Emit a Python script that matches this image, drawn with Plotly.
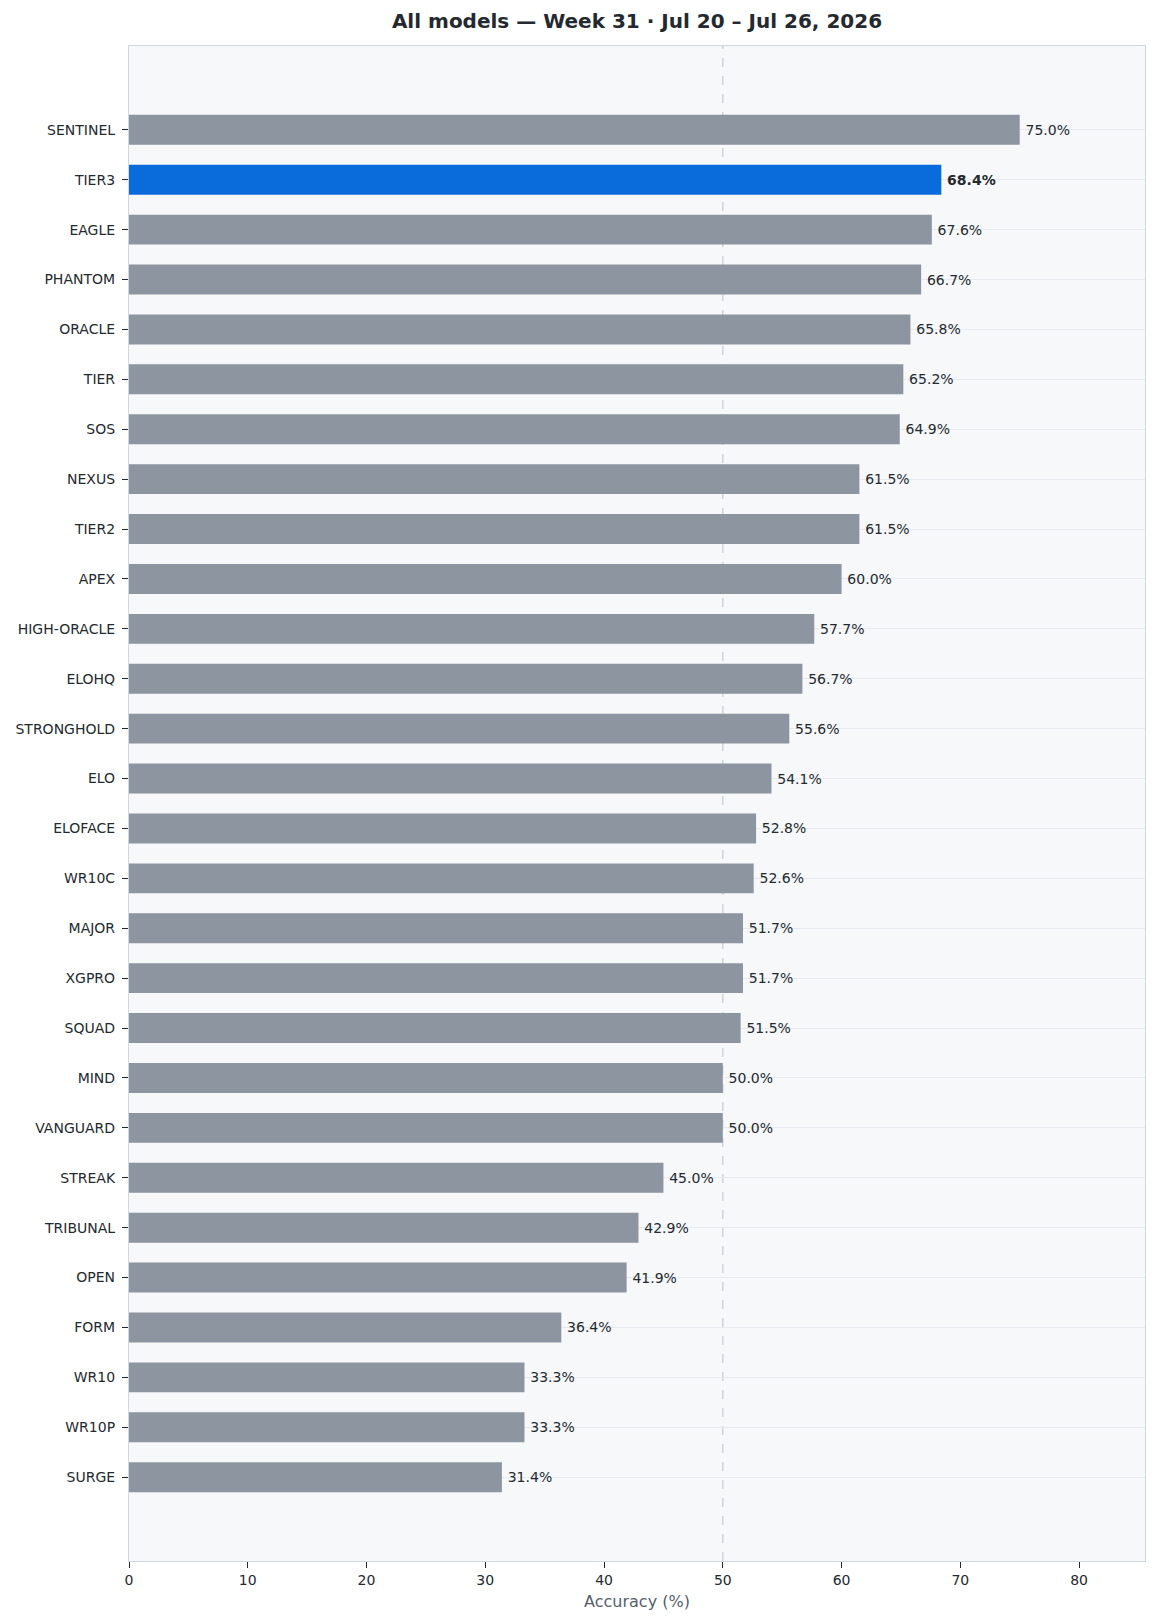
import plotly.graph_objects as go

models = ['SENTINEL', 'TIER3', 'EAGLE', 'PHANTOM', 'ORACLE', 'TIER', 'SOS', 'NEXUS',
          'TIER2', 'APEX', 'HIGH-ORACLE', 'ELOHQ', 'STRONGHOLD', 'ELO', 'ELOFACE',
          'WR10C', 'MAJOR', 'XGPRO', 'SQUAD', 'MIND', 'VANGUARD', 'STREAK', 'TRIBUNAL',
          'OPEN', 'FORM', 'WR10', 'WR10P', 'SURGE']
accuracy = [75.0, 68.4, 67.6, 66.7, 65.8, 65.2, 64.9, 61.5, 61.5, 60.0, 57.7, 56.7,
            55.6, 54.1, 52.8, 52.6, 51.7, 51.7, 51.5, 50.0, 50.0, 45.0, 42.9, 41.9,
            36.4, 33.3, 33.3, 31.4]
highlight = 'TIER3'

colors = ['#0a6bdb' if m == highlight else '#8d95a0' for m in models]
labels = [f'\u2009<b>{v:.1f}%</b>' if m == highlight else f'\u2009{v:.1f}%'
          for m, v in zip(models, accuracy)]

fig = go.Figure(go.Bar(
    x=accuracy,
    y=models,
    orientation='h',
    width=0.6,
    marker=dict(color=colors, line=dict(width=0)),
    text=labels,
    textposition='outside',
    textfont=dict(size=14, color='#24292f'),
    cliponaxis=False,
    hoverinfo='skip',
))

# reference line at 50%
fig.add_shape(type='line', xref='x', yref='paper', x0=50, x1=50, y0=0, y1=1,
              line=dict(color='#c9d1d9', width=1.4, dash='dash'), layer='below')

fig.update_layout(
    width=1157, height=1623,
    margin=dict(l=129, r=12, t=46, b=62),
    paper_bgcolor='white',
    plot_bgcolor='#f6f8fa',
    font=dict(family='DejaVu Sans', size=14, color='#24292f'),
    title=dict(text='<b>All models — Week 31 · Jul 20 – Jul 26, 2026</b>',
               x=0.5, xref='paper', xanchor='center', y=0.9872, yanchor='middle',
               font=dict(size=20, color='#24292f')),
    showlegend=False,
    bargap=0.4,
)

fig.update_xaxes(
    range=[0, 85.55], dtick=10, tick0=0,
    showgrid=False, zeroline=False,
    showline=True, linecolor='#d0d7de', linewidth=1.2, mirror=True,
    ticks='outside', ticklen=6, tickcolor='#24292f',
    tickfont=dict(size=14, color='#24292f'),
    title=dict(text='Accuracy (%)', font=dict(size=16, color='#57606a'), standoff=8),
)
fig.update_yaxes(
    type='category', range=[28.68, -1.68],
    showgrid=True, gridcolor='#e6e9ed', gridwidth=1,
    showline=True, linecolor='#d0d7de', linewidth=1.2, mirror=True,
    ticks='outside', ticklen=6, tickcolor='#24292f', ticklabelstandoff=4,
    tickfont=dict(size=14, color='#24292f'),
)

fig.write_html('out.html',
               config={'displayModeBar': False},
               post_script="document.body.style.margin='0';"
                           "document.body.style.overflow='hidden';")
